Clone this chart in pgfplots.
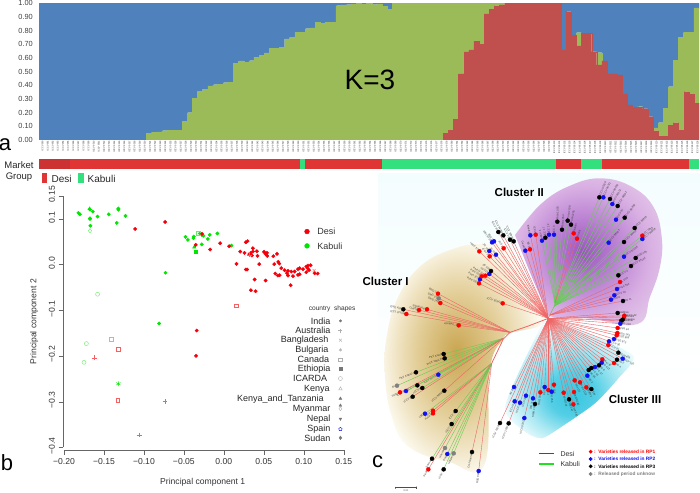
\documentclass[border=0pt]{standalone}
\usepackage{fontspec}
\setmainfont{Liberation Sans}
\usepackage{pgfplots}
\usepackage{pgfplotstable}
\pgfplotsset{compat=1.18}

\definecolor{barblue}{HTML}{4F81BD}
\definecolor{bargreen}{HTML}{9BBB59}
\definecolor{barred}{HTML}{C0504D}
\definecolor{mred}{HTML}{E03535}
\definecolor{mdark}{HTML}{CC3232}
\definecolor{mgreen}{HTML}{34E07E}
\definecolor{pgreen}{HTML}{00E600}
\definecolor{pgpale}{HTML}{66EE66}
\definecolor{pred}{HTML}{F5000A}
\definecolor{prpale}{HTML}{F56060}
\definecolor{lr}{HTML}{EE6666}
\definecolor{lg}{HTML}{66CC55}
\definecolor{keyred}{HTML}{FF2020}
\definecolor{keygreen}{HTML}{20E020}
\definecolor{dr}{HTML}{FF0000}
\definecolor{db}{HTML}{1010F0}
\definecolor{dk}{HTML}{000000}
\definecolor{dg}{HTML}{808080}
\definecolor{shp}{HTML}{777777}
\definecolor{shppale}{HTML}{B0B0B0}
\definecolor{bgtop}{HTML}{F4FDFE}

% tikz maps the path's box onto 50bp, so the edge of the box is at 25bp
\pgfdeclareradialshading{blobI}{\pgfpoint{-3.3bp}{2.5bp}}{rgb(0bp)=(.79,.65,.32); rgb(6.5bp)=(.84,.73,.46); rgb(13bp)=(.89,.81,.6); rgb(19bp)=(.94,.89,.76); rgb(25bp)=(.99,.98,.94); rgb(50bp)=(1,1,.98)}
\pgfdeclareradialshading{blobII}{\pgfpoint{-2.2bp}{.5bp}}{rgb(0bp)=(.62,.33,.76); rgb(10bp)=(.72,.49,.82); rgb(22bp)=(.85,.69,.89); rgb(30bp)=(.89,.78,.91); rgb(50bp)=(.89,.78,.91)}
\pgfdeclareradialshading{blobIII}{\pgfpoint{1bp}{-8bp}}{rgb(0bp)=(.22,.78,.88); rgb(9bp)=(.33,.81,.90); rgb(18bp)=(.66,.91,.95); rgb(26bp)=(.91,.98,.99); rgb(32bp)=(1,1,1); rgb(50bp)=(1,1,1)}

% stacked bars, K=3: row, red, green, blue
\pgfplotstableread{
i r g b
0 0 0 1
1 0 0 1
2 0 0 1
3 0 0 1
4 0 0 1
5 0 0 1
6 0 0 1
7 0 0 1
8 0 0 1
9 0 0 1
10 0 0 1
11 0 0 1
12 0 0 1
13 0 0 1
14 0 0 1
15 0 0 1
16 0 0 1
17 0 0 1
18 0 0 1
19 0 0 1
20 0 0 1
21 0 .05 .95
22 0 .055 .945
23 0 .06 .94
24 0 .068 .932
25 0 .072 .928
26 0 .072 .928
27 0 .072 .928
28 0 .135 .865
29 0 .2 .8
30 0 .307 .693
31 0 .358 .642
32 0 .373 .627
33 0 .395 .605
34 0 .405 .595
35 0 .407 .593
36 0 .42 .58
37 0 .423 .577
38 0 .56 .44
39 0 .578 .422
40 0 .57 .43
41 0 .58 .42
42 0 .607 .393
43 0 .62 .38
44 0 .637 .363
45 0 .67 .33
46 0 .67 .33
47 0 .678 .322
48 0 .74 .26
49 0 .75 .25
50 0 .788 .212
51 0 .788 .212
52 0 .815 .185
53 0 .82 .18
54 0 .863 .137
55 0 .853 .147
56 0 .86 .14
57 0 .86 .14
58 0 .983 .017
59 0 .988 .012
60 0 .99 .01
61 0 .995 .005
62 0 1 0
63 0 .995 .005
64 0 1 0
65 0 .99 .01
66 0 .995 .005
67 0 .98 .02
68 0 .957 .043
69 0 1 0
70 0 1 0
71 0 1 0
72 0 1 0
73 0 1 0
74 0 1 0
75 0 1 0
76 0 1 0
77 0 1 0
78 0 1 0
79 .05 .95 0
80 .073 .927 0
81 .151 .849 0
82 .483 .517 0
83 .644 .356 0
84 .659 .341 0
85 .722 .278 0
86 .702 .298 0
87 .922 .078 0
88 .958 .042 0
89 .983 .017 0
90 .988 .012 0
91 1 0 0
92 1 0 0
93 1 0 0
94 1 0 0
95 1 0 0
96 1 0 0
97 1 0 0
98 1 0 0
99 1 0 0
100 1 0 0
101 1 0 0
102 .659 0 .341
103 .939 0 .061
104 .768 0 .232
105 .688 .097 .215
106 .78 0 .22
107 .78 0 .22
108 .646 0 .354
109 .549 .09 .361
110 .578 0 .422
111 .483 0 .517
112 .483 0 .517
113 .476 0 .524
114 .337 0 .663
115 .256 0 .744
116 .239 0 .761
117 .239 .005 .756
118 .229 0 .771
119 .171 0 .829
120 .068 .02 .912
121 .032 .095 .873
122 .029 .205 .766
123 .107 .283 .61
124 .127 .458 .415
125 .073 .678 .249
126 .354 .434 .212
127 .334 .454 .212
128 .268 .698 .034
}\kthree

% one tree leaf: hub x, hub y, leaf x, leaf y, line colour, dot colour, name
\newcommand\leafL[7]{%
  \addplot[color=#5, line width=.4pt, mark=*, mark indices={2}, mark size=2pt,
    mark options={fill=#6, draw=#6, solid}] coordinates {(#1,#2) (#3,#4)};
  \node[anchor=east, rotate={atan2(#4-#2,#1-#3)}, inner sep=1.6pt, text=black!75,
    font=\fontsize{2.7}{3}\selectfont] at (axis cs:#3,#4) {#7};}
\newcommand\leafR[7]{%
  \addplot[color=#5, line width=.4pt, mark=*, mark indices={2}, mark size=2pt,
    mark options={fill=#6, draw=#6, solid}] coordinates {(#1,#2) (#3,#4)};
  \node[anchor=west, rotate={atan2(#2-#4,#3-#1)}, inner sep=1.6pt, text=black!75,
    font=\fontsize{2.7}{3}\selectfont] at (axis cs:#3,#4) {#7};}

\begin{document}
\begin{tikzpicture}
\path[use as bounding box] (0pt,0pt) rectangle (700pt,492pt);

% ---------- panel c, tree (axis in units of 1/3 px) ----------
\begin{axis}[at={(355pt,0pt)}, anchor=south west, width=345pt, height=322pt, scale only axis,
  xmin=0, xmax=1035, ymin=0, ymax=966, y dir=reverse, hide axis, clip=false]
\addplot[draw=none, shade, top color=bgtop, bottom color=white, forget plot] coordinates {(70,10) (1035,10) (1035,640) (70,640)};
\addplot[draw=none, shade, shading=blobI, smooth, tension=.7] coordinates {
  (465,232) (380,222) (300,235) (200,285) (130,380) (95,500) (90,620) (110,740) (160,830) (280,875) (388,885)
  (404,600) (445,507) (465,490) (575,447) (510,320) (465,232)};
\addplot[draw=none, shade, shading=blobII, smooth, tension=.7] coordinates {
  (480,195) (560,100) (650,45) (740,25) (830,50) (895,110) (920,200) (915,290) (885,380) (848,462)
  (700,445) (582,438) (598,405) (575,420) (480,195)};
\addplot[draw=none, shade, shading=blobIII, smooth, tension=.4] coordinates {
  (580,452) (700,490) (835,558) (790,625) (720,700) (620,770) (560,805) (510,785) (450,710) (555,475) (580,452)};

% skeleton
\addplot[color=lr, line width=.8pt] coordinates {(580,445) (520,468) (465,487) (445,507) (410,580)};
\addplot[color=lg, line width=.6pt] coordinates {(580,445) (598,408)};

% cluster I, upper
\leafL{465}{487}{249}{371}{lr}{dr}{BRG 3}
\leafL{465}{487}{251}{385}{lr}{dg}{GNG 16}
\leafL{465}{487}{256}{399}{lr}{dr}{GNG 146}
\leafL{465}{487}{216}{418}{lr}{dr}{Sadabahar}
\leafL{465}{487}{192}{420}{lr}{dr}{Chaffa}
\leafL{465}{487}{145}{418}{lr}{dk}{GNG 469}
\leafL{465}{487}{154}{432}{lr}{dr}{ICCL 87209}
\leafL{465}{487}{311}{466}{lr}{dr}{Annigeri\_1}
\leafL{580}{445}{443}{400}{lr}{dr}{ICCV 92944}
\leafL{580}{445}{372}{340}{lr}{dr}{Pusa 362}
\leafL{580}{445}{375}{328}{lr}{db}{Pusa 372}
\leafL{580}{445}{380}{319}{lr}{dr}{Pusa 209}
\leafL{580}{445}{391}{317}{lr}{dr}{Pant G114}
\leafL{580}{445}{403}{312}{lr}{db}{JG 315}
\leafL{580}{445}{408}{303}{lr}{dk}{JG 130}
\leafL{580}{445}{373}{244}{lr}{dr}{ICCC 37}
\leafL{580}{445}{404}{259}{lr}{dr}{ICCV 2}
\leafL{580}{445}{403}{243}{lr}{db}{JG 16}
\leafL{580}{445}{423}{254}{lr}{db}{JG 74}
\leafL{580}{445}{446}{235}{lr}{dr}{JG 62}
\leafL{580}{445}{411}{217}{lr}{db}{JAKI 9218}
\leafL{580}{445}{417}{214}{lr}{db}{JGK 1}
\leafL{580}{445}{430}{186}{lr}{dk}{ICCV 37}
\leafL{580}{445}{445}{196}{lr}{dk}{ICCV 93954}
\leafL{580}{445}{465}{209}{lr}{dk}{ICCV 10}
\leafL{580}{445}{476}{214}{lr}{dk}{ICCV 93958}

% cluster I, lower
\leafL{445}{505}{266}{552}{lg}{dk}{PKV Kranti}
\leafL{445}{505}{269}{565}{lg}{dk}{IPCK 2002-29}
\leafL{445}{505}{183}{607}{lg}{dk}{PKV Kabuli 4}
\leafL{445}{505}{126}{647}{lg}{dg}{BL}
\leafL{445}{505}{250}{614}{lg}{db}{ICCV 95334}
\leafL{445}{505}{187}{646}{lg}{dk}{ICCV 2}
\leafL{445}{505}{153}{663}{lg}{db}{ICCV 5}
\leafL{445}{505}{135}{667}{lr}{dr}{Vishal}
\leafL{445}{505}{202}{654}{lg}{dk}{ICCV 8}
\leafL{445}{505}{173}{680}{lr}{dk}{ICCV 9}
\leafL{445}{505}{268}{662}{lr}{dk}{ICCV 96029}
\leafL{410}{580}{234}{722}{lr}{dr}{Pusa 1}
\leafL{410}{580}{234}{730}{lr}{dr}{Pusa 3}
\leafL{410}{580}{210}{731}{lg}{db}{LBG}
\leafL{410}{580}{302}{723}{lg}{dk}{ICCV 3}
\leafL{410}{580}{290}{762}{lg}{dk}{ICCV 6}
\leafL{410}{580}{231}{866}{lg}{dk}{Samrat}
\leafL{410}{580}{220}{898}{lr}{dr}{Sindh}
\leafL{410}{580}{270}{834}{lg}{dg}{Hassan}
\leafL{410}{580}{277}{852}{lg}{db}{Pusa}
\leafL{410}{580}{296}{850}{lg}{dg}{Haryana}
\leafL{410}{580}{266}{898}{lg}{dk}{ICCV 7}
\leafL{410}{580}{351}{846}{lr}{dk}{CSJ Gaurav}
\leafL{410}{580}{371}{903}{lr}{db}{RSG 888}

% cluster II, left
\leafL{580}{445}{511}{242}{lr}{db}{Dasari}
\leafL{580}{445}{525}{238}{lr}{dr}{RS 1}
\leafL{580}{445}{526}{196}{lr}{db}{Bharati}
\leafL{580}{445}{542}{194}{lr}{dr}{ICCV}
\leafR{600}{400}{561}{212}{lg}{db}{ICCV 4}
\leafR{600}{400}{571}{203}{lg}{dk}{ICC 17}
\leafR{600}{400}{582}{194}{lg}{db}{ICC 12}
\leafR{600}{400}{597}{194}{lg}{db}{ICC 4}
\leafR{600}{400}{607}{155}{lg}{dk}{Pusa 1003}
\leafR{600}{400}{621}{179}{lg}{dk}{Pusa 1053}
\leafR{600}{400}{638}{152}{lg}{dk}{Pusa 1108}
\leafR{600}{400}{648}{164}{lg}{dk}{Pusa 1105}
\leafR{600}{400}{656}{190}{lr}{dr}{Narain}
\leafR{600}{400}{666}{206}{lr}{dr}{Kranti}

% cluster II, right
\leafR{598}{408}{733}{82}{lg}{dk}{ICCV 95318}
\leafR{598}{408}{745}{82}{lg}{db}{ICCV 95311}
\leafR{598}{408}{765}{87}{lg}{dk}{ICCV 96030}
\leafR{598}{408}{772}{102}{lg}{db}{ICCV 95312}
\leafR{598}{408}{788}{108}{lg}{dk}{ICCV 96032}
\leafR{598}{408}{783}{149}{lg}{db}{ICCV 97}
\leafR{598}{408}{809}{143}{lg}{dk}{ICCV 96836}
\leafR{598}{408}{839}{174}{lg}{dk}{ICCV 96853}
\leafR{598}{408}{862}{197}{lg}{dr}{ICC 5810}
\leafR{598}{408}{862}{207}{lg}{db}{ICCV 96858}
\leafR{598}{408}{761}{218}{lg}{db}{ICCV 88503}
\leafR{598}{408}{807}{216}{lg}{dk}{ICCV 89314}
\leafR{598}{408}{807}{260}{lg}{db}{ICCV 97105}
\leafR{598}{408}{842}{264}{lg}{dk}{BGD 103}
\leafR{598}{408}{828}{288}{lg}{dk}{ICCV 93122}
\leafR{598}{408}{790}{316}{lg}{dk}{ICCV 2}
\leafR{585}{435}{795}{336}{lr}{dr}{L 550}
\leafR{585}{435}{786}{357}{lr}{db}{Pusa 392}
\leafR{585}{435}{778}{376}{lr}{db}{ICCV 10}
\leafR{585}{435}{768}{389}{lr}{db}{Rohini}
\leafR{585}{435}{804}{393}{lr}{dk}{JG 11}
\leafR{580}{445}{788}{429}{lr}{dk}{Vaibhav}
\leafR{580}{445}{808}{437}{lr}{dr}{ICCC 42}
\leafR{580}{445}{807}{441}{lr}{dr}{Himani}
\leafR{580}{445}{803}{449}{lr}{dk}{Bheema}
\leafR{580}{445}{799}{452}{lr}{dk}{Jawahar}
\leafR{580}{445}{796}{461}{lr}{db}{JG 218}

% cluster III
\leafR{580}{445}{788}{474}{lr}{dr}{RSG 44}
\leafR{580}{445}{787}{489}{lr}{dr}{RSG 143}
\leafR{580}{445}{785}{496}{lr}{dr}{RSG 963}
\leafR{580}{445}{777}{507}{lr}{db}{RSG 973}
\leafR{580}{445}{762}{514}{lr}{db}{ICCV 90}
\leafR{580}{445}{760}{525}{lr}{dr}{ICCV 91}
\leafR{580}{445}{790}{548}{lr}{dk}{BGM 408}
\leafR{580}{445}{803}{566}{lr}{db}{GCP 105}
\leafR{580}{445}{786}{569}{lr}{dk}{GG 2}
\leafR{580}{445}{777}{579}{lr}{dr}{GG 4}
\leafR{580}{445}{742}{568}{lr}{dr}{JAKI 92}
\leafR{580}{445}{740}{578}{lr}{db}{JG 412}
\leafR{580}{445}{732}{586}{lr}{dk}{JG 6}
\leafR{580}{445}{720}{591}{lr}{db}{JSC 37}
\leafR{580}{445}{709}{594}{lr}{dk}{JSC 55}
\leafR{580}{445}{701}{600}{lr}{dk}{JSC 56}
\leafR{580}{445}{697}{617}{lr}{db}{KAK 2}
\leafR{580}{445}{659}{631}{lr}{dr}{Phule G5}
\leafR{580}{445}{675}{637}{lr}{dr}{Phule G12}
\leafR{580}{445}{694}{652}{lr}{dr}{Radhey}
\leafR{580}{445}{709}{657}{lr}{dk}{Vijay}
\leafR{580}{445}{657}{666}{lr}{dr}{Pant G186}
\leafR{580}{445}{626}{668}{lr}{dr}{Pant G114}
\leafR{580}{445}{642}{688}{lr}{dk}{Pusa 547}
\leafR{580}{445}{655}{703}{lr}{dr}{Pusa 240}
\leafR{580}{445}{597}{644}{lr}{dr}{H 208}
\leafL{580}{445}{569}{651}{lr}{db}{K 850}
\leafL{580}{445}{580}{660}{lr}{dr}{T 3}
\leafR{580}{445}{590}{665}{lr}{db}{BG 256}
\leafL{580}{445}{556}{667}{lr}{dr}{RSG 931}
\leafL{580}{445}{534}{685}{lr}{db}{WR 315}
\leafL{580}{445}{540}{702}{lr}{dk}{KWR 108}
\leafL{580}{445}{513}{677}{lr}{db}{ICCV 37}
\leafL{580}{445}{495}{698}{lr}{db}{ICCC 4}
\leafL{580}{445}{479}{694}{lr}{db}{ICCV 93}
\leafL{580}{445}{477}{651}{lr}{db}{JG 24}
\leafL{580}{445}{508}{744}{lr}{db}{ICCV 92311}
\leafL{580}{445}{461}{760}{lr}{dk}{ICCV 10263}
\leafL{580}{445}{435}{759}{lr}{dk}{ICCV 10264}

% legends of the tree
\addplot[draw=dr, line width=1.2pt, mark=none] coordinates {(553,851) (597,851)};
\addplot[draw=keygreen, line width=1.2pt, mark=none] coordinates {(553,882) (597,882)};
\addplot[only marks, mark=*, mark size=1.7pt, color=dr] coordinates {(707,845)};
\addplot[only marks, mark=*, mark size=1.7pt, color=db] coordinates {(707,867)};
\addplot[only marks, mark=*, mark size=1.7pt, color=dk] coordinates {(707,889)};
\addplot[only marks, mark=*, mark size=1.7pt, color=dg] coordinates {(707,912)};
\addplot[color=black!70, line width=.4pt] coordinates {(122,950) (122,956) (122,953) (185,953) (185,950) (185,956)};
\node[font=\fontsize{7}{8}\selectfont, anchor=west, text=black!80] at (axis cs:606,851) {Desi};
\node[font=\fontsize{7}{8}\selectfont, anchor=west, text=black!80] at (axis cs:606,882) {Kabuli};
\node[font=\fontsize{4.8}{5}\selectfont\bfseries, anchor=west, inner sep=0, text=dr] at (axis cs:717,845) {:\ \ Varieties released in RP1};
\node[font=\fontsize{4.8}{5}\selectfont\bfseries, anchor=west, inner sep=0, text=db] at (axis cs:717,867) {:\ \ Varieties released in RP2};
\node[font=\fontsize{4.8}{5}\selectfont\bfseries, anchor=west, inner sep=0, text=dk] at (axis cs:717,889) {:\ \ Varieties released in RP3};
\node[font=\fontsize{4.8}{5}\selectfont\bfseries, anchor=west, inner sep=0, text=dg] at (axis cs:717,912) {:\ \ Released period unknow};
\node[font=\fontsize{2.5}{3}\selectfont, text=black!70] at (axis cs:153,961) {0.01};
\node[font=\fontsize{11.5}{13}\selectfont\bfseries] at (axis cs:493,66) {Cluster II};
\node[font=\fontsize{11.5}{13}\selectfont\bfseries] at (axis cs:92,334) {Cluster I};
\node[font=\fontsize{11.5}{13}\selectfont\bfseries] at (axis cs:840,688) {Cluster III};
\node[font=\fontsize{22}{24}\selectfont] at (axis cs:68,875) {c};
\end{axis}

% ---------- panel a, stacked bars ----------
\begin{axis}[at={(39pt,352pt)}, anchor=south west, width=660pt, height=136.7pt, scale only axis,
  ybar stacked, bar width=5.116pt, xmin=-.5, xmax=128.5, ymin=0, ymax=1,
  axis line style={draw=none}, major tick length=0pt,
  ytick={0,.1,.2,.3,.4,.5,.6,.7,.8,.9,1},
  yticklabel style={/pgf/number format/fixed, /pgf/number format/fixed zerofill,
    /pgf/number format/precision=2, /pgf/number format/assume math mode=true,
    font=\fontsize{7.4}{8}\selectfont, text=black!75, inner sep=1pt, xshift=-5pt},
  xtick={0,...,128},
  xticklabel={ICCV 95\pgfmathprintnumber{\tick}},
  xticklabel style={rotate=90, anchor=east, font=\fontsize{2.4}{3}\selectfont, text=black!80,
    inner sep=.5pt, /pgf/number format/assume math mode=true, yshift=-1pt}]
\addplot[fill=barred, draw=barred, line width=.1pt] table[x=i, y=r] {\kthree};
\addplot[fill=bargreen, draw=bargreen, line width=.1pt] table[x=i, y=g] {\kthree};
\addplot[fill=barblue, draw=barblue, line width=.1pt] table[x=i, y=b] {\kthree};
\end{axis}

% market group strip, lengths in bars
\begin{axis}[at={(39pt,323pt)}, anchor=south west, width=660pt, height=10.4pt, scale only axis,
  xbar stacked, bar width=10.4pt, xmin=0, xmax=129, ymin=-.5, ymax=.5, hide axis]
\addplot[fill=mdark, draw=none] coordinates {(6,0)};
\addplot[fill=mred, draw=none] coordinates {(45,0)};
\addplot[fill=mgreen, draw=none] coordinates {(1,0)};
\addplot[fill=mred, draw=none] coordinates {(15,0)};
\addplot[fill=mgreen, draw=none] coordinates {(34,0)};
\addplot[fill=mred, draw=none] coordinates {(5,0)};
\addplot[fill=mgreen, draw=none] coordinates {(4,0)};
\addplot[fill=mred, draw=none] coordinates {(17,0)};
\addplot[fill=mgreen, draw=none] coordinates {(2,0)};
\end{axis}

% ---------- panel b, PCA ----------
\begin{axis}[at={(64pt,44.7pt)}, anchor=south west, width=279.7pt, height=251.3pt, scale only axis,
  xmin=-.2, xmax=.15, ymin=-.4, ymax=.15, clip=false,
  axis lines=left, axis line style={-, black!60}, axis x line shift=3pt, axis y line shift=1pt,
  tick align=outside, major tick length=4.5pt, tick style={black!60},
  xtick={-.2,-.15,-.1,-.05,0,.05,.1,.15},
  xticklabels={−0.20,−0.15,−0.10,−0.05,0.00,0.05,0.10,0.15},
  ytick={-.4,-.3,-.2,-.1,0,.1,.15},
  yticklabels={−0.4,−0.3,−0.2,−0.1,0.0,0.1,0.15},
  yticklabel style={rotate=90, anchor=south, xshift=1.5pt},
  ticklabel style={font=\fontsize{8.6}{10}\selectfont, text=black!80},
  xlabel={Principal component 1}, ylabel={Principal component 2},
  label style={font=\fontsize{8.6}{10}\selectfont, text=black!80},
  xlabel style={at={(axis description cs:.496,-.14)}, anchor=center},
  ylabel style={at={(axis description cs:-.107,.5)}, anchor=center, rotate=0}]
% filled, Kabuli
\addplot[only marks, mark=*, mark size=1.7pt, color=pgreen] coordinates {
 (-.182,.113) (-.18,.11) (-.1675,.12) (-.164,.116) (-.1675,.1) (-.1675,.101) (-.158,.105)
 (-.144,.11) (-.132,.1225) (-.132,.12) (-.123,.1065) (-.134,.091) (-.167,.085)
 (-.048,.0605) (-.045,.054) (-.073,-.018) (-.081,-.129)
 (-.0376,.061) (-.038,.0576) (-.03,.068) (-.0276,.065) (-.0255,.063) (-.02,.056)
 (-.0176,.065) (-.008,.068) (-.0276,.044) (.0096,.0416)};
\addplot[only marks, mark=square*, mark size=1.7pt, color=pgreen] coordinates {(-.0355,.028)};
\addplot[only marks, mark=triangle*, mark size=2pt, color=pgreen] coordinates {(-.168,.122) (-.037,.038)};
\addplot[only marks, mark=diamond, mark size=2.2pt, color=pgpale] coordinates {(-.1675,.074)};
\addplot[only marks, mark=o, mark size=2pt, color=pgpale] coordinates {(-.158,-.065) (-.172,-.173) (-.175,-.214)};
\addplot[only marks, mark=square, mark size=1.8pt, mark options={draw=pgpale}] coordinates {(-.141,-.164) (-.032,.068)};
\addplot[only marks, mark=asterisk, mark size=2.4pt, color=pgreen] coordinates {(-.132,-.261)};
% filled, Desi
\addplot[only marks, mark=*, mark size=1.7pt, color=pred] coordinates {
 (-.111,.078) (-.0735,.093) (-.0272,.0671) (-.0351,.043) (-.0171,.0328) (-.0046,.0467) (.0067,.0401)
 (.0205,.0284) (.0259,.0255) (.0276,.0489) (.0297,.0511) (.0318,.0226) (.0334,.0248) (.0351,.0197)
 (.0364,.0357) (.0364,.0284) (.0414,.0292) (.0422,.019) (.0502,.0277) (.0522,.0233) (.0539,.0255)
 (.0543,.019) (.0619,.0182) (.0665,.0233) (.0681,.0058) (.0694,.0022) (.0631,.0007) (.0443,.0007)
 (.0159,.0015) (.0276,-.0109) (.0293,-.0109) (.0385,-.0328) (.0522,-.035) (.0339,-.0562) (.0397,-.0584)
 (.0836,-.0452) (.0644,-.0197) (.0677,-.0241) (.0698,-.0233) (.0719,-.008) (.0761,-.0124) (.0803,-.0139)
 (.0844,-.0153) (.0886,-.0153) (.0928,-.0102) (.0949,-.008) (.0991,-.0102) (.1032,-.0044) (.1053,-.0022)
 (.1087,-.0015) (.1032,-.0168) (.1066,-.0124) (.1049,-.008) (.1175,-.0197) (.1137,-.019) (.0928,-.0226)
 (.0949,-.0212) (.0865,-.0255) (.0803,-.0241) (.079,-.019) (-.0339,-.1444) (-.0347,-.1999)};
\addplot[only marks, mark=x, mark size=2.2pt, color=prpale] coordinates {(.1129,-.0131)};
\addplot[only marks, mark=+, mark size=2.4pt, color=prpale] coordinates {(.0322,.0212) (-.162,-.204) (-.0735,-.299) (-.106,-.373)};
\addplot[only marks, mark=square, mark size=1.7pt, color=prpale] coordinates {(.0155,-.0897) (-.132,-.185) (-.133,-.297)};
% Desi, Kabuli key
\addplot[only marks, mark=*, mark size=2.4pt, color=pred] coordinates {(.1041,.0722)};
\addplot[only marks, mark=*, mark size=2.4pt, color=pgreen] coordinates {(.1041,.0408)};
% country shapes key
\addplot[only marks, mark=*, mark size=1.2pt, color=shp] coordinates {(.1459,-.1233)};
\addplot[only marks, mark=+, mark size=2pt, color=shppale] coordinates {(.1459,-.1444)};
\addplot[only marks, mark=x, mark size=2pt, color=shppale] coordinates {(.1459,-.1656)};
\addplot[only marks, mark=asterisk, mark size=1.8pt, color=shppale] coordinates {(.1459,-.1867)};
\addplot[only marks, mark=square, mark size=1.8pt, color=shppale] coordinates {(.1459,-.2079)};
\addplot[only marks, mark=square*, mark size=1.6pt, color=shp] coordinates {(.1459,-.2283)};
\addplot[only marks, mark=o, mark size=2pt, color=shppale] coordinates {(.1459,-.2495)};
\addplot[only marks, mark=triangle, mark size=2pt, color=shppale] coordinates {(.1459,-.272)};
\addplot[only marks, mark=triangle*, mark size=1.6pt, color=shp] coordinates {(.1459,-.2932) (.1459,-.3085)};
\addplot[only marks, mark=diamond, mark size=2pt, color=shppale] coordinates {(.1459,-.3158)};
\addplot[only marks, mark=triangle*, mark size=1.6pt, mark options={rotate=180}, color=shp] coordinates {(.1459,-.3377)};
\addplot[only marks, mark=pentagon, mark size=1.8pt, color=blue] coordinates {(.1459,-.3603)};
\addplot[only marks, mark=diamond*, mark size=1.8pt, color=shp] coordinates {(.1459,-.3793)};
\node[anchor=west, font=\fontsize{9}{10}\selectfont, text=black!80] at (axis cs:.1125,.0722) {Desi};
\node[anchor=west, font=\fontsize{9}{10}\selectfont, text=black!80] at (axis cs:.1125,.0408) {Kabuli};
\node[font=\fontsize{6.6}{8}\selectfont, text=black!80] at (axis cs:.1355,-.0975) {country\ \ shapes};
\foreach \n/\x/\y in {India/.1336/-.1233, Australia/.1336/-.1444, Bangladesh/.1311/-.1656, Bulgaria/.1311/-.1867,
    Canada/.1319/-.2079, Ethiopia/.1336/-.2283, ICARDA/.1294/-.2495, Kenya/.1327/-.274,
    Kenya\_and\_Tanzania/.1252/-.2953, Myanmar/.1336/-.3165, Nepal/.1336/-.3385, Spain/.1336/-.36, Sudan/.1336/-.3805}{
  \edef\temp{\noexpand\node[anchor=east, inner sep=0pt, font=\noexpand\fontsize{9}{10}\noexpand\selectfont, text=black!85] at (axis cs:\x,\y) {\n};}
  \temp
}
\end{axis}

% loose text, y counted from the top
\begin{scope}[x=1pt, y=-1pt, yshift=492pt]
\node[font=\fontsize{28}{30}\selectfont] at (370,80) {K=3};
\node[font=\fontsize{22}{24}\selectfont] at (5,145) {a};
\node[font=\fontsize{22}{24}\selectfont] at (7,463) {b};
\node[font=\fontsize{9.5}{11}\selectfont, text=black!85] at (19,165) {Market};
\node[font=\fontsize{9.5}{11}\selectfont, text=black!85] at (19,177) {Group};
\fill[mred] (41.5,173) rectangle (47,183.5);
\node[anchor=west, inner sep=0pt, font=\fontsize{10}{11}\selectfont, text=black!85] at (51.5,179) {Desi};
\fill[mgreen] (78,173) rectangle (83.5,183.5);
\node[anchor=west, inner sep=0pt, font=\fontsize{10}{11}\selectfont, text=black!85] at (87.5,179) {Kabuli};
\end{scope}
\end{tikzpicture}
\end{document}
